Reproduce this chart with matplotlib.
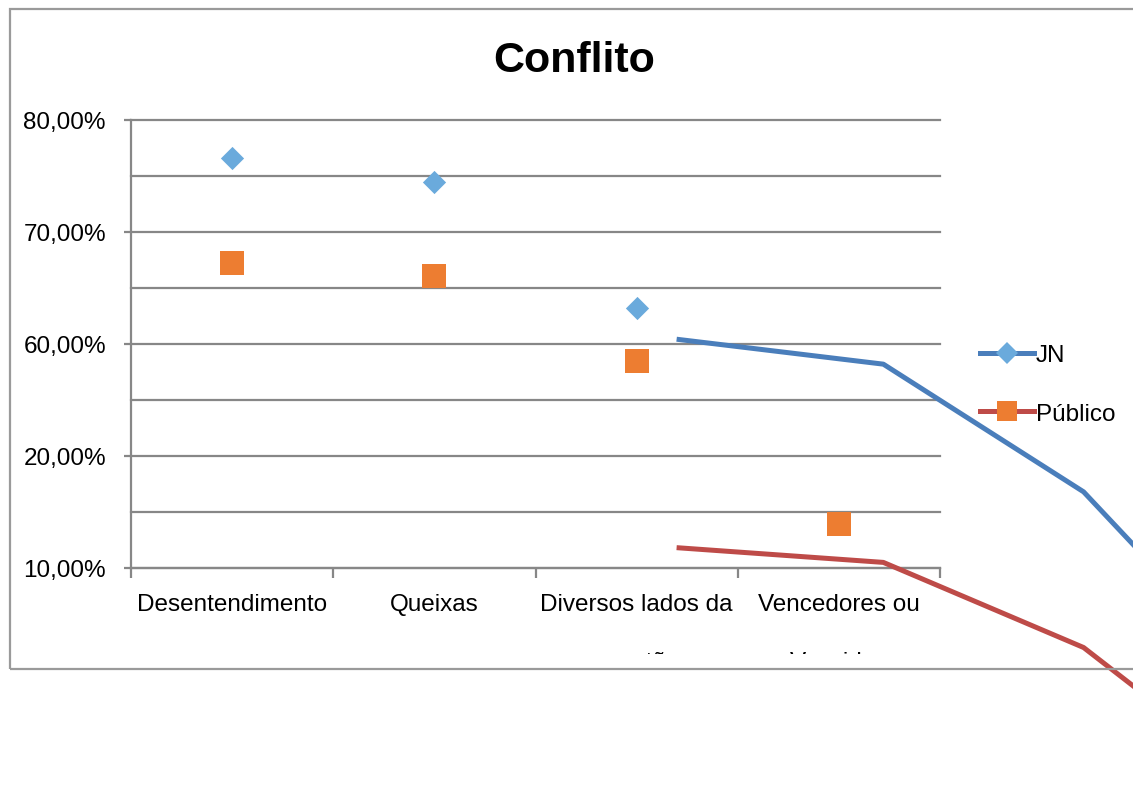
import matplotlib.pyplot as plt
from matplotlib.patches import Rectangle
from matplotlib.transforms import Bbox, TransformedBbox, blended_transform_factory
from matplotlib.lines import Line2D

plt.rcParams['font.family'] = ['Liberation Sans', 'DejaVu Sans']

# data
categories = ["Desentendimento", "Queixas", "Diversos lados da", "Vencedores ou"]
second_line = ["", "", "questão", "Vencidos"]
jn_x = [0, 1, 2]
jn_vals = [76.6, 74.5, 63.2]
pub_x = [0, 1, 2, 3]
pub_vals = [67.2, 66.1, 58.5, 43.9]

# the stray connecting lines (drawn shifted, running off the chart)
jn_line_x = [2.21, 3.22, 4.21, 4.46]
jn_line_y = [60.4, 58.2, 46.8, 42.0]
pub_line_x = [2.21, 3.22, 4.21, 4.46]
pub_line_y = [41.8, 40.5, 32.9, 29.4]

ytick_vals = [40, 50, 60, 70, 80]
ytick_labels = ["10,00%", "20,00%", "60,00%", "70,00%", "80,00%"]
grid_vals = [40, 45, 50, 55, 60, 65, 70, 75, 80]

W, H = 1133, 812
fig = plt.figure(figsize=(W / 100, H / 100), dpi=100)
grey = "#878787"

# outer chart frame
fig.patches.append(Rectangle((10 / W, (H - 670) / H), 1.2, (670 - 10) / H,
                             transform=fig.transFigure, fill=False,
                             edgecolor="#9a9a9a", linewidth=1.6))

ax = fig.add_axes([131 / W, (H - 569) / H, (940 - 131) / W, (569 - 121) / H])
ax.set_xlim(-0.5, 3.5)
ax.set_ylim(40, 80)

for g in grid_vals:
    ax.axhline(g, color=grey, linewidth=1.6, zorder=1, clip_on=False)

for s in ["top", "right"]:
    ax.spines[s].set_visible(False)
for s in ["left", "bottom"]:
    ax.spines[s].set_color(grey)
    ax.spines[s].set_linewidth(1.6)

ax.set_yticks(ytick_vals)
ax.set_yticklabels(ytick_labels, fontsize=17.5)
ax.tick_params(axis="y", length=5, width=1.6, color=grey, pad=13)

ax.set_xticks(range(len(categories)))
ax.set_xticklabels(categories, fontsize=17.5)
ax.set_xticks([-0.5, 0.5, 1.5, 2.5, 3.5], minor=True)
ax.tick_params(axis="x", which="major", length=0, pad=18)
ax.tick_params(axis="x", which="minor", length=7, width=1.6, color=grey)

# second line of the category labels, cut off by the frame
trans = blended_transform_factory(ax.transData, fig.transFigure)
clip = TransformedBbox(Bbox([[0, (H - 655) / H], [1, 1]]), fig.transFigure)
for i, t in enumerate(second_line):
    if t:
        txt = fig.text(i, (H - 652) / H, t, transform=trans, fontsize=17.5,
                       ha="center", va="top")
        txt.set_clip_box(clip)
        txt.set_clip_on(True)

ax.plot(jn_line_x, jn_line_y, color="#4a7ebb", linewidth=3.6, clip_on=False, zorder=3)
ax.plot(pub_line_x, pub_line_y, color="#be4b48", linewidth=3.6, clip_on=False, zorder=3)

ax.scatter(jn_x, jn_vals, marker="D", s=140, color="#6aaadc", zorder=4,
           linewidths=0)
ax.scatter(pub_x, pub_vals, marker="s", s=290, color="#ed7d31", zorder=4,
           linewidths=0)

fig.text(574 / W, (H - 61) / H, "Conflito", fontsize=31, fontweight="bold",
         ha="center", va="center")

handles = [
    Line2D([], [], color="#4a7ebb", linewidth=3.6, marker="D", markersize=11,
           markerfacecolor="#6aaadc", markeredgewidth=0),
    Line2D([], [], color="#be4b48", linewidth=3.6, marker="s", markersize=15,
           markerfacecolor="#ed7d31", markeredgewidth=0),
]
fig.legend(handles, ["JN", "Público"], loc="upper left",
           bbox_to_anchor=(968 / W, (H - 333) / H), frameon=False,
           fontsize=17.5, handlelength=2.2, handletextpad=0.1,
           labelspacing=1.5, borderpad=0)

fig.savefig("out.png", dpi=100)
